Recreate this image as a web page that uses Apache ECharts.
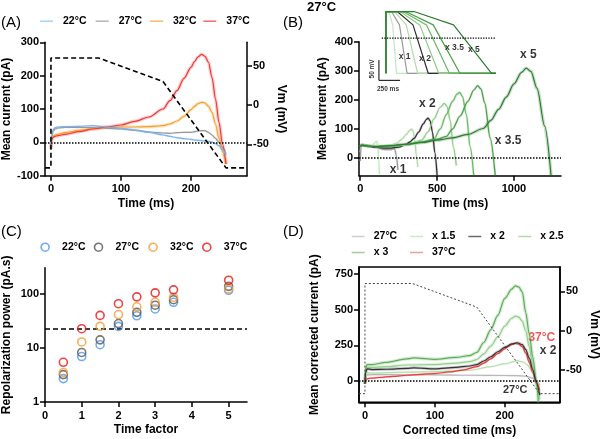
<!DOCTYPE html>
<html>
<head>
<meta charset="utf-8">
<script src="https://cdn.jsdelivr.net/npm/echarts@6/dist/echarts.min.js"></script>
<style>
  html, body { margin: 0; background: #fff; }
  #chart { width: 600px; height: 439px; }
</style>
</head>
<body>
<div id="chart"></div>
<script>
const FONT = 'Liberation Sans, Arial, sans-serif';

// ---- (A) mean current, four temperatures ----
const tA = [0, 1, 3, 6, 10, 20, 40, 60, 80, 100, 120, 140, 160, 170, 180, 190, 200, 205, 210, 215, 220, 225, 230, 235, 240, 245, 250];
const cur22 = [-20, 20, 38, 44, 46, 47, 48, 50, 46, 42, 37, 30, 22, 18, 14, 11, 9, 7, 6, 5, 4, 3, 1, -4, -10, -22, -40];
const cur27 = [-20, 15, 33, 40, 43, 45, 45, 44, 42, 40, 36, 31, 28, 27, 29, 30, 30, 32, 34, 35, 35, 30, 22, 12, 0, -15, -35];
const cur32 = [-20, 8, 18, 22, 24, 29, 36, 41, 45, 46, 46, 47, 50, 55, 64, 78, 98, 108, 116, 120, 118, 108, 90, 55, 12, -28, -65];
const cur37 = [-20, 8, 15, 18, 20, 24, 32, 40, 46, 52, 63, 76, 100, 125, 155, 192, 225, 242, 256, 264, 258, 240, 195, 130, 60, -5, -65];

// voltage protocol (mV)
const vmT = [-8.5, 0, 0, 68, 160, 250, 280];
const vmV = [-80, -80, 60, 60, 30, -80, -80];

// ---- (B) 27°C, stretched protocols ----
const bT05 = [0, 10, 30, 50, 70, 80, 90, 100, 109, 115, 120, 125];
const bI05 = [20, 50, 45, 40, 42, 45, 50, 55, 58, 40, 0, -55];
const bT1 = [0, 5, 20, 50, 100, 150, 200, 215, 225, 235, 245];
const bI1 = [-10, 40, 45, 42, 38, 30, 29, 33, 30, 10, -40];
const bT15 = [0, 10, 50, 100, 150, 200, 240, 270, 300, 320, 336, 345, 355, 365, 375];
const bI15 = [40, 45, 42, 40, 40, 45, 52, 65, 82, 95, 100, 92, 60, 10, -30];
const bT2 = [0, 10, 50, 100, 150, 200, 250, 300, 320, 350, 380, 410, 430, 441, 455, 470, 485, 500];
const bI2 = [40, 45, 42, 38, 35, 35, 38, 48, 55, 68, 90, 118, 133, 138, 128, 90, 20, -58];
const bT25 = [0, 10, 50, 100, 200, 300, 400, 440, 480, 520, 547, 565, 585, 605, 625];
const bI25 = [40, 45, 42, 40, 40, 45, 62, 90, 135, 175, 188, 178, 130, 40, -25];
const bT3 = [0, 10, 50, 100, 200, 300, 400, 480, 520, 560, 600, 630, 647, 665, 690, 715, 738];
const bI3 = [40, 45, 42, 40, 42, 48, 55, 66, 100, 150, 195, 220, 226, 212, 150, 40, -58];
const bT35 = [0, 10, 50, 100, 200, 300, 400, 500, 560, 600, 650, 700, 740, 764, 785, 810, 845, 878];
const bI35 = [40, 45, 42, 40, 42, 48, 55, 65, 75, 100, 145, 195, 235, 249, 238, 190, 70, -58];
const bT5 = [0, 10, 50, 100, 200, 300, 400, 500, 600, 700, 800, 850, 900, 950, 1000, 1050, 1080, 1110, 1150, 1200, 1241];
const bI5 = [40, 45, 42, 40, 43, 48, 54, 62, 70, 82, 102, 130, 168, 210, 255, 295, 309, 298, 240, 110, -58];

// inset: protocol break points for each time factor
const protoV = [-80, 60, 60, 30, -80, -80];
const protoT05 = [0, 0, 34, 80, 125, 1300];
const protoT1 = [0, 0, 68, 160, 250, 1300];
const protoT15 = [0, 0, 102, 240, 375, 1300];
const protoT2 = [0, 0, 136, 320, 500, 1300];
const protoT25 = [0, 0, 170, 400, 625, 1300];
const protoT3 = [0, 0, 204, 480, 750, 1300];
const protoT35 = [0, 0, 238, 560, 875, 1300];
const protoT5 = [0, 0, 340, 800, 1250, 1300];
const scaleT = [-83, -83, 167];
const scaleV = [-50, -96, -96];
const insetZeroT = [-50, 1290];
const insetZeroV = [0, 0];

// ---- (C) repolarization power ----
const factors = [0.5, 1, 1.5, 2, 2.5, 3, 3.5, 5];
const pow22 = [2.7, 6.9, 11.4, 24.8, 39, 52, 69, 115];
const pow27 = [3.2, 8.2, 14, 28, 45, 61, 77, 136];
const pow32 = [3.5, 12.8, 24.8, 41, 57, 69, 85, 122];
const pow37 = [5.4, 22.5, 39.6, 65, 87, 103, 117, 176];
const powThreshold = 22.5;

// ---- (D) corrected current ----
const dT27 = [0, 1, 3, 10, 60, 100, 150, 200, 218, 230, 240, 245, 250];
const dI27 = [-20, 30, 42, 44, 44, 43, 40, 38, 37, 33, 20, 0, -30];
const dT15 = [0, 1, 3, 10, 60, 100, 150, 180, 200, 218, 225, 232, 240, 245, 250];
const dI15 = [-20, 45, 58, 55, 62, 65, 75, 100, 120, 142, 135, 115, 60, 10, -50];
const dT2 = [0, 1, 3, 10, 30, 60, 70, 100, 130, 150, 160, 170, 180, 190, 200, 210, 218, 225, 230, 235, 240, 245, 250];
const dI2 = [-20, 60, 85, 80, 82, 88, 92, 85, 95, 105, 115, 140, 170, 205, 235, 260, 268, 255, 220, 160, 80, -10, -100];
const dT25 = [0, 1, 3, 10, 30, 60, 100, 130, 150, 160, 170, 180, 190, 200, 210, 215, 220, 225, 230, 235, 240, 245, 250];
const dI25 = [-20, 70, 95, 95, 100, 112, 115, 125, 135, 150, 190, 245, 310, 385, 440, 455, 448, 420, 350, 240, 110, -20, -130];
const dT3 = [0, 1, 3, 10, 30, 60, 70, 100, 130, 150, 160, 170, 180, 190, 200, 210, 215, 220, 225, 230, 235, 240, 245, 248];
const dI3 = [-20, 90, 115, 115, 130, 155, 162, 152, 165, 178, 200, 270, 360, 460, 580, 645, 668, 660, 625, 480, 330, 170, 0, -150];

const GREEN = { x05: '#c4e6bf', x1: '#9a9a9a', x15: '#aedba6', x2: '#2e2e2e', x25: '#8fcd87', x3: '#66b862', x35: '#47a047', x5: '#2b7d2e' };
const TEMP = { t22: '#76b4ef', t27: '#9a9a9a', t32: '#f5a12e', t37: '#ee3b3b' };

function xy(t, v) { return t.map((x, i) => [x, v[i]]); }

function trace(name, t, v, color, xi, yi, band) {
  const out = [];
  if (band) {
    out.push({ type: 'line', xAxisIndex: xi, yAxisIndex: yi, data: xy(t, v), symbol: 'none', smooth: 0.3,
      smoothMonotone: 'x', silent: true, lineStyle: { color, width: band, opacity: 0.25 }, z: 2 });
  }
  out.push({ name, type: 'line', xAxisIndex: xi, yAxisIndex: yi, data: xy(t, v), symbol: 'none', smooth: 0.3,
    smoothMonotone: 'x', lineStyle: { color, width: 1.2 }, itemStyle: { color }, z: 3 });
  return out;
}

function plain(t, v, color, xi, yi, width, type) {
  return { type: 'line', xAxisIndex: xi, yAxisIndex: yi, data: xy(t, v), symbol: 'none', silent: true, clip: false,
    lineStyle: { color, width, type: type || 'solid' }, z: 4 };
}

function notes(items, xi, yi, size) {
  return { type: 'scatter', xAxisIndex: xi, yAxisIndex: yi, symbolSize: 0, silent: true, clip: false, z: 10,
    data: items.map(d => ({ name: d[0], value: [d[1], d[2]], label: d[3] || {} })),
    label: { show: true, position: 'inside', formatter: '{b}', color: '#000', fontFamily: FONT, fontWeight: 'bold', fontSize: size } };
}

// empty series carrying a horizontal reference line on a given axis
function refLine(xi, yi, value, type) {
  return { type: 'line', xAxisIndex: xi, yAxisIndex: yi, data: [], markLine: { silent: true, symbol: 'none',
    label: { show: false }, data: [{ yAxis: value }], lineStyle: { color: '#000', type, width: 1.5 } } };
}

function axis(o) {
  return {
    type: o.type || 'value', gridIndex: o.grid, position: o.position, show: o.show !== false,
    min: o.min, max: o.max, interval: o.interval, logBase: o.type === 'log' ? 10 : undefined,
    name: o.name, nameLocation: 'middle', nameGap: o.gap, nameRotate: o.rotate,
    nameTextStyle: { fontFamily: FONT, fontWeight: 'bold', fontSize: 12, color: '#000' },
    axisLine: { show: true, onZero: false, lineStyle: { color: '#000', width: 1.5 } },
    axisTick: { show: true, inside: false, length: 5, lineStyle: { color: '#000', width: 1.5 }, customValues: o.ticks },
    axisLabel: { color: '#000', fontFamily: FONT, fontWeight: 'bold', fontSize: 11, margin: o.margin || 6,
      customValues: o.ticks, showMaxLabel: o.showMax, formatter: o.type === 'log' ? undefined : (v => String(v)) },
    splitLine: { show: false }, minorTick: { show: false }
  };
}

function legendItem(name, left, cy, color, circle, pad) {
  return {
    left, top: cy - 7, padding: 0, data: [name], selectedMode: false,
    icon: circle ? 'circle' : 'rect', itemWidth: circle ? 8 : 13, itemHeight: circle ? 8 : 1.5,
    itemStyle: circle ? { color: 'transparent', borderColor: color, borderWidth: 1.6 } : { color, borderWidth: 0 },
    formatter: n => n.split('|')[1],
    textStyle: { fontFamily: FONT, fontWeight: 'bold', fontSize: 10.5, color: '#000', padding: [0, 0, 0, pad] }
  };
}

const chart = echarts.init(document.getElementById('chart'));

const series = [
  // A
  ...trace('A|27°C', tA, cur27, TEMP.t27, 0, 0, 2),
  ...trace('A|32°C', tA, cur32, TEMP.t32, 0, 0, 3.5),
  ...trace('A|37°C', tA, cur37, TEMP.t37, 0, 0, 3.5),
  ...trace('A|22°C', tA, cur22, TEMP.t22, 0, 0, 2),
  plain(vmT, vmV, '#000', 0, 1, 1.6, [5, 3]),
  refLine(0, 0, 0, 'dotted'),
  // B
  ...trace('B|0.5', bT05, bI05, GREEN.x05, 1, 2, 2.5),
  ...trace('B|1', bT1, bI1, GREEN.x1, 1, 2, 2.5),
  ...trace('B|1.5', bT15, bI15, GREEN.x15, 1, 2, 2.5),
  ...trace('B|2', bT2, bI2, GREEN.x2, 1, 2, 2.5),
  ...trace('B|2.5', bT25, bI25, GREEN.x25, 1, 2, 2.5),
  ...trace('B|3', bT3, bI3, GREEN.x3, 1, 2, 2.5),
  ...trace('B|3.5', bT35, bI35, GREEN.x35, 1, 2, 2.5),
  ...trace('B|5', bT5, bI5, GREEN.x5, 1, 2, 3.5),
  notes([['x 1', 247, -39], ['x 2', 436, 187], ['x 3.5', 962, 60], ['x 5', 1093, 354]], 1, 2, 12),
  refLine(1, 2, 0, 'dotted'),
  // inset
  plain(protoT05, protoV, GREEN.x05, 2, 3, 1.2),
  plain(protoT1, protoV, GREEN.x1, 2, 3, 1.2),
  plain(protoT15, protoV, GREEN.x15, 2, 3, 1.2),
  plain(protoT2, protoV, GREEN.x2, 2, 3, 1.2),
  plain(protoT25, protoV, GREEN.x25, 2, 3, 1.2),
  plain(protoT3, protoV, GREEN.x3, 2, 3, 1.2),
  plain(protoT35, protoV, GREEN.x35, 2, 3, 1.2),
  plain(protoT5, protoV, GREEN.x5, 2, 3, 1.2),
  plain(insetZeroT, insetZeroV, '#000', 2, 3, 1.3, 'dotted'),
  plain(scaleT, scaleV, '#000', 2, 3, 1),
  notes([['x 1', 221, -42], ['x 2', 462, -46], ['x 3.5', 811, -21], ['x 5', 1041, -26]], 2, 3, 8.5),
  notes([['250 ms', 24, -117], ['50 mV', -166, -70, { rotate: 90 }]], 2, 3, 6.5),
  // C
  ...[['C|22°C', pow22, '#4a98ee'], ['C|27°C', pow27, '#555555'], ['C|32°C', pow32, '#f59a36'], ['C|37°C', pow37, '#e81414']]
    .map(([name, v, c]) => ({
      name, type: 'scatter', xAxisIndex: 3, yAxisIndex: 4, data: xy(factors, v), symbol: 'circle', symbolSize: 8,
      itemStyle: { color: 'transparent', borderColor: c, borderWidth: 1.6 }, z: 5
    })),
  refLine(3, 4, powThreshold, [5, 3]),
  // D
  ...trace('D|27°C', dT27, dI27, '#b8b8b8', 4, 5, 2),
  ...trace('D|x 1.5', dT15, dI15, '#b5deae', 4, 5, 2),
  ...trace('D|x 2.5', dT25, dI25, '#92cf8b', 4, 5, 3.5),
  ...trace('D|x 3', dT3, dI3, '#5cae58', 4, 5, 3.5),
  ...trace('D|37°C', tA, cur37, '#f03a3a', 4, 5, 2),
  ...trace('D|x 2', dT2, dI2, '#333333', 4, 5, 3),
  plain(vmT, vmV, '#444', 4, 6, 1, [2, 2]),
  refLine(4, 5, 0, 'dotted'),
  notes([['37°C', 253, 306, { color: '#f03030' }], ['x 2', 262, 209], ['27°C', 215, -61, { fontSize: 11 }]], 4, 5, 12)
];

chart.setOption({
  animation: false,
  backgroundColor: '#fff',
  textStyle: { fontFamily: FONT },
  grid: [
    { left: 45, top: 42.3, width: 202, height: 133.4, outerBoundsMode: 'none' },
    { left: 359, top: 41.7, width: 202, height: 134, outerBoundsMode: 'none' },
    { left: 377.5, top: 11.7, width: 118.3, height: 70.4, outerBoundsMode: 'none' },
    { left: 45, top: 267.7, width: 202, height: 134.3, outerBoundsMode: 'none' },
    { left: 359, top: 267, width: 201, height: 135.3, outerBoundsMode: 'none', show: true,
      borderColor: '#000', borderWidth: 1.5, backgroundColor: 'transparent' }
  ],
  xAxis: [
    axis({ grid: 0, min: -8.5, max: 280, ticks: [0, 100, 200], name: 'Time (ms)', gap: 22, margin: 8 }),
    axis({ grid: 1, min: -8, max: 1306, ticks: [0, 500, 1000], name: 'Time (ms)', gap: 22, margin: 8 }),
    axis({ grid: 2, min: -100, max: 1300, show: false }),
    axis({ grid: 3, min: 0, max: 5.5, ticks: [0, 1, 2, 3, 4, 5], name: 'Time factor', gap: 22, margin: 8 }),
    axis({ grid: 4, min: -8.5, max: 279, ticks: [0, 100, 200], name: 'Corrected time (ms)', gap: 22, margin: 8 })
  ],
  yAxis: [
    axis({ grid: 0, min: -100, max: 300, interval: 100, name: 'Mean current (pA)', gap: 30 }),
    axis({ grid: 0, position: 'right', min: -90, max: 80, ticks: [-50, 0, 50], name: 'Vm (mV)', gap: 28, rotate: -90 }),
    axis({ grid: 1, min: -60, max: 400, ticks: [0, 100, 200, 300, 400], name: 'Mean current (pA)', gap: 30 }),
    axis({ grid: 2, min: -100, max: 60, show: false }),
    axis({ grid: 3, type: 'log', min: 1, max: 300, name: 'Repolarization power (pA.s)', gap: 32, showMax: false }),
    axis({ grid: 4, min: -150, max: 800, ticks: [0, 250, 500, 750], name: 'Mean corrected current (pA)', gap: 38 }),
    axis({ grid: 4, position: 'right', min: -91, max: 81, ticks: [-50, 0, 50], name: 'Vm (mV)', gap: 28, rotate: -90 })
  ],
  legend: [
    legendItem('A|22°C', 40, 22.7, '#a9d3f7', false, 5),
    legendItem('A|27°C', 95.7, 22.7, '#b4b4b4', false, 5),
    legendItem('A|32°C', 150, 22.7, '#f8b96c', false, 5),
    legendItem('A|37°C', 203.3, 22.7, '#f26a6a', false, 5),
    legendItem('C|22°C', 40.3, 248.7, '#4a98ee', true, 8),
    legendItem('C|27°C', 93.7, 248.7, '#555555', true, 8),
    legendItem('C|32°C', 148.3, 248.7, '#f59a36', true, 8),
    legendItem('C|37°C', 202, 248.7, '#e81414', true, 8),
    legendItem('D|27°C', 351.7, 238, '#cfcfcf', false, 4),
    legendItem('D|x 1.5', 410, 238, '#cce9c7', false, 4),
    legendItem('D|x 2', 468.3, 238, '#6b6b6b', false, 4),
    legendItem('D|x 2.5', 518.3, 238, '#b0dcaa', false, 4),
    legendItem('D|x 3', 351.7, 254, '#9dd196', false, 4),
    legendItem('D|37°C', 410, 254, '#f39a9a', false, 4)
  ],
  graphic: [
    { type: 'text', x: 1, y: 22.7, style: { text: '(A)', font: '15px ' + FONT, fill: '#000', verticalAlign: 'middle' } },
    { type: 'text', x: 283, y: 22.7, style: { text: '(B)', font: '15px ' + FONT, fill: '#000', verticalAlign: 'middle' } },
    { type: 'text', x: 1, y: 232, style: { text: '(C)', font: '15px ' + FONT, fill: '#000', verticalAlign: 'middle' } },
    { type: 'text', x: 283, y: 232, style: { text: '(D)', font: '15px ' + FONT, fill: '#000', verticalAlign: 'middle' } },
    { type: 'text', x: 307, y: 7, style: { text: '27°C', font: 'bold 13px ' + FONT, fill: '#000', verticalAlign: 'middle' } }
  ],
  series
});
</script>
</body>
</html>
